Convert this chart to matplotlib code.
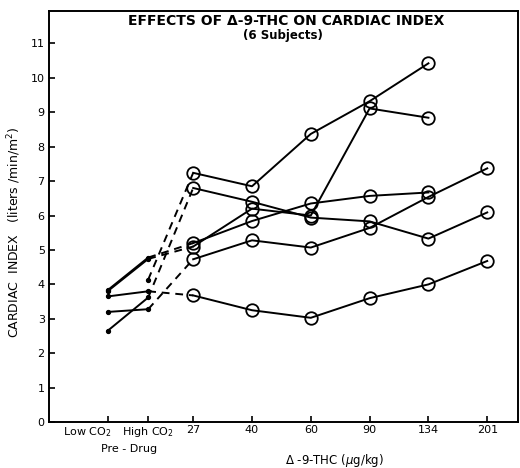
import numpy as np
import matplotlib
matplotlib.use("Agg")
import matplotlib.pyplot as plt
import matplotlib.transforms as mtransforms

# ---- data ----
categories = ["Low CO$_2$", "High CO$_2$", "27", "40", "60", "90", "134", "201"]
nan = np.nan
pre_low  = [2.65, 3.20, 3.65, 3.83, nan, 3.80]
pre_high = [3.62, 3.28, 3.80, 4.78, 4.14, 4.74]
dose_27  = [6.80, 4.73, 3.68, 5.20, 7.24, 5.10]
dose_40  = [6.40, 5.28, 3.25, 5.84, 6.85, 6.20]
dose_60  = [5.94, 5.07, 3.03, 6.35, 8.37, 6.00]
dose_90  = [5.83, 5.64, 3.60, 6.57, 9.32, 9.11]
dose_134 = [5.33, 6.54, 4.00, 6.67, 10.42, 8.84]
dose_201 = [6.09, 7.37, 4.68, nan, nan, nan]
y_ticks = list(range(0, 12))

# ---- layout ----
x_pos = [-1.456, -0.765, 0, 1, 2, 3, 4, 5]

fig = plt.figure(figsize=(5.2, 4.68), dpi=100)
ax = fig.add_axes([0.094, 0.098, 0.902, 0.8785])

lw = 1.4
doses = np.array([dose_27, dose_40, dose_60, dose_90, dose_134, dose_201])
for i in range(6):
    # pre-drug (solid, small dots)
    ax.plot([x_pos[0], x_pos[1]], [pre_low[i], pre_high[i]], '-', color='black',
            lw=lw, marker='o', ms=2.8, zorder=3)
    # transition to first dose (dashed)
    ax.plot([x_pos[1], x_pos[2]], [pre_high[i], dose_27[i]], color='black',
            lw=lw, linestyle=(0, (4, 3)), zorder=2)
    # dose responses
    ax.plot(x_pos[2:], doses[:, i], '-', color='black', lw=lw, marker='o',
            ms=9, mfc='none', mec='black', mew=1.3, zorder=3)

ax.set_xlim(-2.454, 5.522)
ax.set_ylim(0, 11.94)
ax.set_yticks(y_ticks)
ax.set_yticklabels([str(t) for t in y_ticks], fontsize=8)
ax.set_xticks(x_pos)
ax.set_xticklabels(categories, fontsize=8)
ax.tick_params(direction='in', length=4, width=1.2, pad=3)
ax.tick_params(axis='x', pad=2)
lab = ax.get_xticklabels()[0]
lab.set_transform(lab.get_transform() + mtransforms.ScaledTranslation(-0.2, 0, fig.dpi_scale_trans))
for s in ax.spines.values():
    s.set_linewidth(1.4)

ax.text(0.505, 0.993, "EFFECTS OF \u0394-9-THC ON CARDIAC INDEX", transform=ax.transAxes,
        ha='center', va='top', fontsize=10, fontweight='bold')
ax.text(0.5, 0.957, "(6 Subjects)", transform=ax.transAxes,
        ha='center', va='top', fontsize=8.5, fontweight='bold')

fig.text(0.027, 0.504, "CARDIAC  INDEX   (liters /min/m$^2$)", rotation=90,
         ha='center', va='center', fontsize=9)
fig.text(0.248, 0.040, "Pre - Drug", ha='center', va='center', fontsize=8)
fig.text(0.643, 0.017, "\u0394 -9-THC ($\\mu$g/kg)", ha='center', va='center', fontsize=8.5)

fig.savefig("out.png", dpi=100)
